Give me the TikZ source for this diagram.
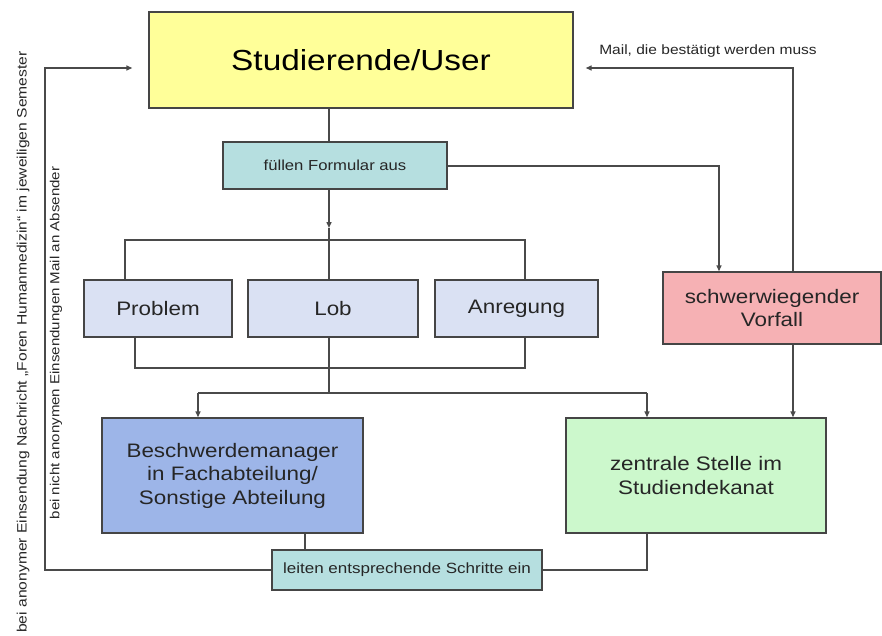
\documentclass[tikz,border=0pt]{standalone}
\usepackage{fontspec}
\setmainfont{Liberation Sans}[FakeStretch=1.15]
\usetikzlibrary{arrows.meta}
\definecolor{cyellow}{HTML}{FFFF99}
\definecolor{cteal}{HTML}{B6DFE0}
\definecolor{clav}{HTML}{DAE1F3}
\definecolor{cblue}{HTML}{9DB5E8}
\definecolor{cpink}{HTML}{F6B1B4}
\definecolor{cgreen}{HTML}{CCF8CC}
\definecolor{cborder}{HTML}{454545}
\definecolor{cline}{HTML}{4A4A4A}
\definecolor{ctext}{HTML}{262626}
\tikzset{
  box/.style={draw=cborder, line width=1.4pt, text=ctext, align=center, inner sep=0pt},
  conn/.style={draw=cline, line width=1.4pt},
  arr/.style={conn, -{Triangle[length=6pt,width=5pt]}},
  midtxt/.style={font=\fontsize{19.5}{23.5}\selectfont},
  smalltxt/.style={font=\fontsize{14.8}{17}\selectfont},
  sidetxt/.style={text=ctext, inner sep=0pt, rotate=90}
}
\begin{document}
\begin{tikzpicture}[x=1pt,y=-1pt]
\fill[white] (0,0) rectangle (882,635);
\useasboundingbox (0,0) rectangle (882,635);

% nodes
\node[box, fill=cyellow, minimum width=424pt, minimum height=96pt,
      font=\fontsize{29}{34}\selectfont, text=black] (user) at (361,60) {Studierende/User};
\node[box, fill=cteal, minimum width=224pt, minimum height=47pt, smalltxt,
      font=\fontsize{14.5}{17}\selectfont] (form) at (335,165.5) {füllen Formular aus};
\node[box, fill=clav, minimum width=148pt, minimum height=57pt, midtxt] (prob) at (158,308.5) {Problem};
\node[box, fill=clav, minimum width=170pt, minimum height=57pt, midtxt] (lob) at (333,308.5) {Lob};
\node[box, fill=clav, minimum width=163pt, minimum height=57pt, midtxt] (anr) at (516.5,308.5) {Anregung};
\node[box, fill=cpink, minimum width=218pt, minimum height=72pt, midtxt] (schw) at (772,308) {schwerwiegender\\Vorfall};
\node[box, fill=cblue, minimum width=261pt, minimum height=115pt, midtxt] (besch) at (232.5,475.5)
      {Beschwerdemanager\\in Fachabteilung/\\Sonstige Abteilung};
\node[box, fill=cgreen, minimum width=260pt, minimum height=115pt, midtxt] (zent) at (696,475.5)
      {zentrale Stelle im\\Studiendekanat};
\node[box, fill=cteal, minimum width=270pt, minimum height=40pt, smalltxt] (leit) at (407,570)
      {leiten entsprechende Schritte ein};

% side labels
\node[sidetxt, font=\fontsize{13.6}{16}\selectfont] (outer) at (23,342)
  {bei anonymer Einsendung Nachricht „Foren Humanmedizin“ im jeweiligen Semester};
\node[sidetxt, font=\fontsize{13.1}{16}\selectfont] (inner) at (56,343)
  {bei nicht anonymen Einsendungen Mail an Absender};
\node[text=ctext, inner sep=0pt, font=\fontsize{13.5}{16}\selectfont] (mail) at (708,51)
  {Mail, die bestätigt werden muss};

% helper coordinates
\coordinate (trunk) at (329,0);
\coordinate (a1) at (329,228);
\coordinate (b1) at (125,240);
\coordinate (b2) at (525,240);
\coordinate (c1) at (135,368);
\coordinate (c2) at (525,368);
\coordinate (d0) at (329,393);
\coordinate (d1) at (198,393);
\coordinate (d2) at (647,393);
\coordinate (e1) at (719,166);
\coordinate (f1) at (793,68);
\coordinate (g1) at (45,68);
\coordinate (h1) at (305,0);

% connectors
\draw[conn] (user.south -| trunk) -- (form.north -| trunk);
\draw[arr] (form.south -| trunk) -- (a1);
\draw[conn] (a1) -- (lob.north -| trunk);
\draw[conn] (prob.north -| b1) -- (b1) -- (b2) -- (anr.north -| b2);
\draw[conn] (prob.south -| c1) -- (c1) -- (c2) -- (anr.south -| c2);
\draw[conn] (lob.south -| trunk) -- (d0);
\draw[conn] (d1) -- (d2);
\draw[arr] (d1) -- (besch.north -| d1);
\draw[arr] (d2) -- (zent.north -| d2);
\draw[arr] (form.east |- e1) -- (e1) -- (schw.north -| e1);
\draw[arr, shorten >=12pt] (schw.north -| f1) -- (f1) -- (user.east |- f1);
\draw[arr] (schw.south -| f1) -- (zent.north -| f1);
\draw[conn] (besch.south -| h1) -- (leit.north -| h1);
\draw[conn] (zent.south -| d2) |- (leit.east);
\draw[arr, shorten >=16pt] (leit.west) -| (g1) -- (user.west |- g1);
\end{tikzpicture}
\end{document}
